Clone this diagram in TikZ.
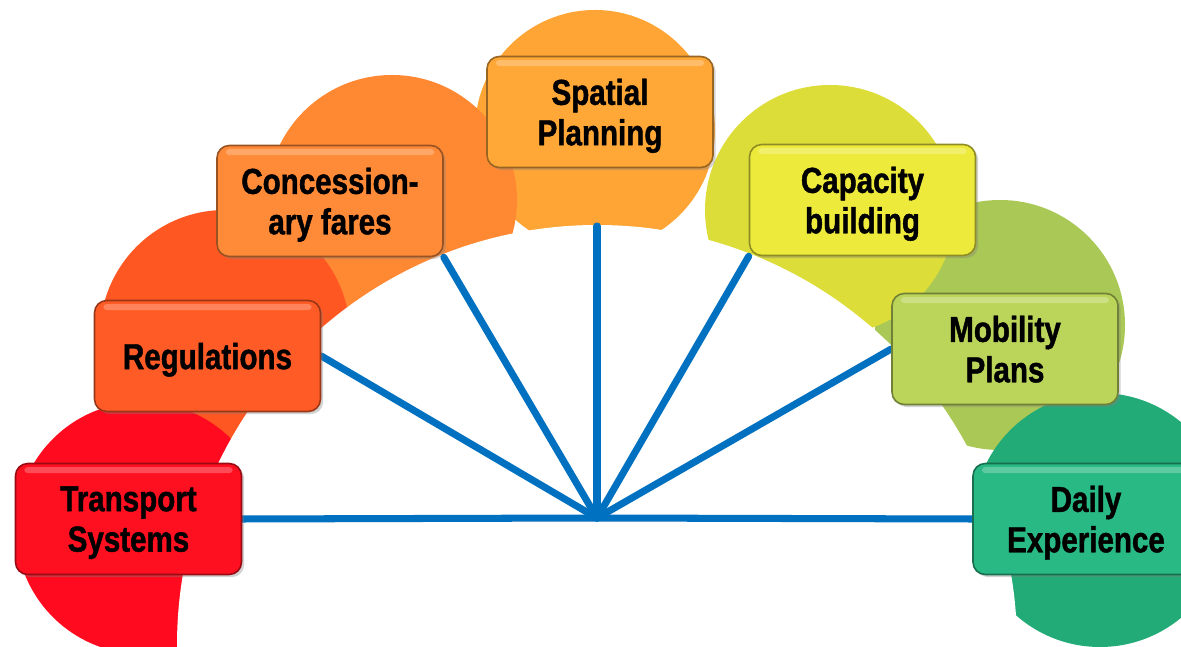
\documentclass[tikz,border=0pt]{standalone}
\usepackage{fontspec}
\setmainfont{Liberation Sans}[FakeStretch=0.82, BoldFeatures={FakeBold=1.2}]
\usetikzlibrary{shadows}

\definecolor{cTra}{HTML}{FF1020}
\definecolor{cReg}{HTML}{FF5B26}
\definecolor{cCon}{HTML}{FF8A38}
\definecolor{cSpa}{HTML}{FFA838}
\definecolor{cCap}{HTML}{EEEA3C}
\definecolor{cMob}{HTML}{BBD55A}
\definecolor{cDai}{HTML}{28B984}
\definecolor{cTraC}{HTML}{FF0A1E}
\definecolor{cRegC}{HTML}{FF5722}
\definecolor{cConC}{HTML}{FF8833}
\definecolor{cSpaC}{HTML}{FFA535}
\definecolor{cCapC}{HTML}{DDDD3A}
\definecolor{cMobC}{HTML}{AAC855}
\definecolor{cDaiC}{HTML}{22AA77}
\definecolor{cSpoke}{HTML}{0070C0}

\pgfdeclarelayer{discs}
\pgfdeclarelayer{spokes}
\pgfsetlayers{discs,spokes,main}

\tikzset{
  tagbox/.style={rounded corners=7pt, minimum width=4.52cm, minimum height=2.22cm,
    align=center, inner sep=2pt, text depth=0pt,
    font=\fontsize{20.5}{23}\selectfont\bfseries,
    fill=#1, draw=#1!60!black, line width=0.9pt,
    drop shadow={shadow xshift=1.5pt, shadow yshift=-1.5pt, opacity=0.35},
    path picture={\fill[white, opacity=0.25, rounded corners=2pt]
      ([xshift=5pt,yshift=-2pt]path picture bounding box.north west) rectangle
      ([xshift=-5pt,yshift=-5.5pt]path picture bounding box.north east);}},
  spoke/.style={draw=cSpoke, line width=4pt, line cap=round}
}

\begin{document}
\begin{tikzpicture}
  \useasboundingbox (0,0) rectangle (23.62,12.94);

  \begin{pgfonlayer}{discs}
    \clip (0,0) rectangle (23.62,12.94);
    \fill[cMobC] (20.0,6.44) circle (2.5);
    \fill[cCapC] (16.6,8.74) circle (2.5);
    \fill[cSpaC] (11.9,10.34) circle (2.4);
    \fill[cConC] (7.84,8.94) circle (2.5);
    \fill[cRegC] (4.5,6.24) circle (2.5);
    \fill[cTraC] (2.84,2.38) circle (2.52);
    \fill[cDaiC] (22.0,2.54) circle (2.54);
    \fill[white] (11.94,0.04) circle (8.4);
  \end{pgfonlayer}

  \coordinate (hub) at (11.94,2.58);
  \coordinate (arctop) at (11.94,8.42);

  \node[tagbox=cTra] (trans) at (2.57,2.56) {Transport\\Systems};
  \node[tagbox=cReg] (regul) at (4.15,5.82) {Regulations};
  \node[tagbox=cCon] (conc) at (6.60,8.92) {Concession-\\ary fares};
  \node[tagbox=cSpa] (spat) at (12.0,10.70) {Spatial\\Planning};
  \node[tagbox=cCap] (capa) at (17.25,8.94) {Capacity\\building};
  \node[tagbox=cMob] (mobi) at (20.1,5.96) {Mobility\\Plans};
  \node[tagbox=cDai] (daily) at (21.72,2.56) {Daily\\Experience};

  \begin{pgfonlayer}{spokes}
    \draw[spoke] (hub) -- (trans.east);
    \draw[spoke] (hub) -- (regul.east);
    \draw[spoke] (hub) -- (conc.south east);
    \draw[spoke] (hub) -- (arctop);
    \draw[spoke] (hub) -- (capa.south west);
    \draw[spoke] (hub) -- (mobi.west);
    \draw[spoke] (hub) -- (daily.west);
  \end{pgfonlayer}
\end{tikzpicture}
\end{document}
